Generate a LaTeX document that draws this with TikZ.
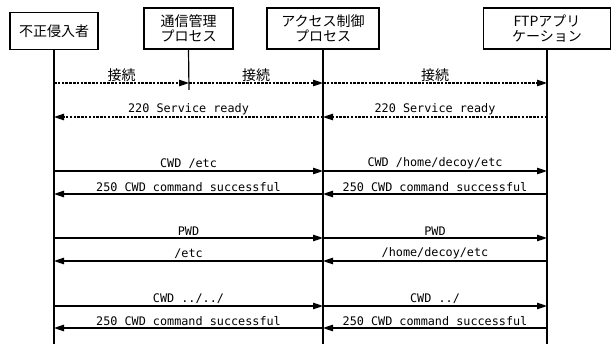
\documentclass[tikz,border=0pt]{standalone}
\usepackage{fontspec}
\setmainfont{DejaVu Sans Mono}
\newfontfamily\jp{Noto Sans CJK JP}
\usetikzlibrary{arrows.meta}
\begin{document}
\begin{tikzpicture}[x=1pt,y=-1pt,
  actor/.style={draw,line width=1.2pt,align=center,inner sep=0pt,
    font=\jp\fontsize{14}{15.5}\selectfont},
  life/.style={line width=1.2pt},
  msg/.style={line width=1.1pt,-{Triangle[length=10pt,width=6.5pt]}},
  dmsg/.style={msg,dash pattern=on 2.5pt off 1.3pt},
  lbl/.style={font=\fontsize{11.8}{13}\selectfont,anchor=south,inner sep=1.5pt},
  jlbl/.style={lbl,font=\jp\fontsize{14}{15}\selectfont,inner sep=0.5pt}]
\useasboundingbox (0,0) rectangle (612,344);
\node[actor,minimum width=88pt,minimum height=37pt] (A) at (54,31) {不正侵入者};
\node[actor,minimum width=89pt,minimum height=41pt] (B) at (188.5,28.5) {通信管理\\プロセス};
\node[actor,minimum width=112pt,minimum height=41pt] (C) at (323,28.5) {アクセス制御\\プロセス};
\node[actor,minimum width=127pt,minimum height=41pt] (D) at (547,28.5) {FTPアプリ\\ケーション};
\coordinate (Aend) at (54,344);
\coordinate (Bend) at (189,90);
\coordinate (Cend) at (323,344);
\coordinate (Dend) at (547,344);
\draw[life] (A.south) -- (Aend);
\draw[life] (B.south) -- (Bend);
\draw[life] (C.south) -- (Cend);
\draw[life] (D.south) -- (Dend);
\foreach \r/\y in {1/83,2/117,3/171,4/194,5/238,6/261,7/306,8/328}{
  \coordinate (A\r) at (54,\y);
  \coordinate (B\r) at (189,\y);
  \coordinate (C\r) at (323,\y);
  \coordinate (D\r) at (547,\y);
}
% row 1
\draw[dmsg] (A1) -- node[jlbl]{接続} (B1);
\draw[dmsg] (B1) -- node[jlbl]{接続} (C1);
\draw[dmsg] (C1) -- node[jlbl]{接続} (D1);
% row 2
\draw[dmsg] (D2) -- node[lbl]{220 Service ready} (C2);
\draw[dmsg] (C2) -- node[lbl]{220 Service ready} (A2);
% row 3
\draw[msg] (A3) -- node[lbl]{CWD /etc} (C3);
\draw[msg] (C3) -- node[lbl]{CWD /home/decoy/etc} (D3);
% row 4
\draw[msg] (C4) -- node[lbl]{250 CWD command successful} (A4);
\draw[msg] (D4) -- node[lbl]{250 CWD command successful} (C4);
% row 5
\draw[msg] (A5) -- node[lbl]{PWD} (C5);
\draw[msg] (C5) -- node[lbl]{PWD} (D5);
% row 6
\draw[msg] (C6) -- node[lbl]{/etc} (A6);
\draw[msg] (D6) -- node[lbl]{/home/decoy/etc} (C6);
% row 7
\draw[msg] (A7) -- node[lbl]{CWD ../../} (C7);
\draw[msg] (C7) -- node[lbl]{CWD ../} (D7);
% row 8
\draw[msg] (C8) -- node[lbl]{250 CWD command successful} (A8);
\draw[msg] (D8) -- node[lbl]{250 CWD command successful} (C8);
\end{tikzpicture}
\end{document}
